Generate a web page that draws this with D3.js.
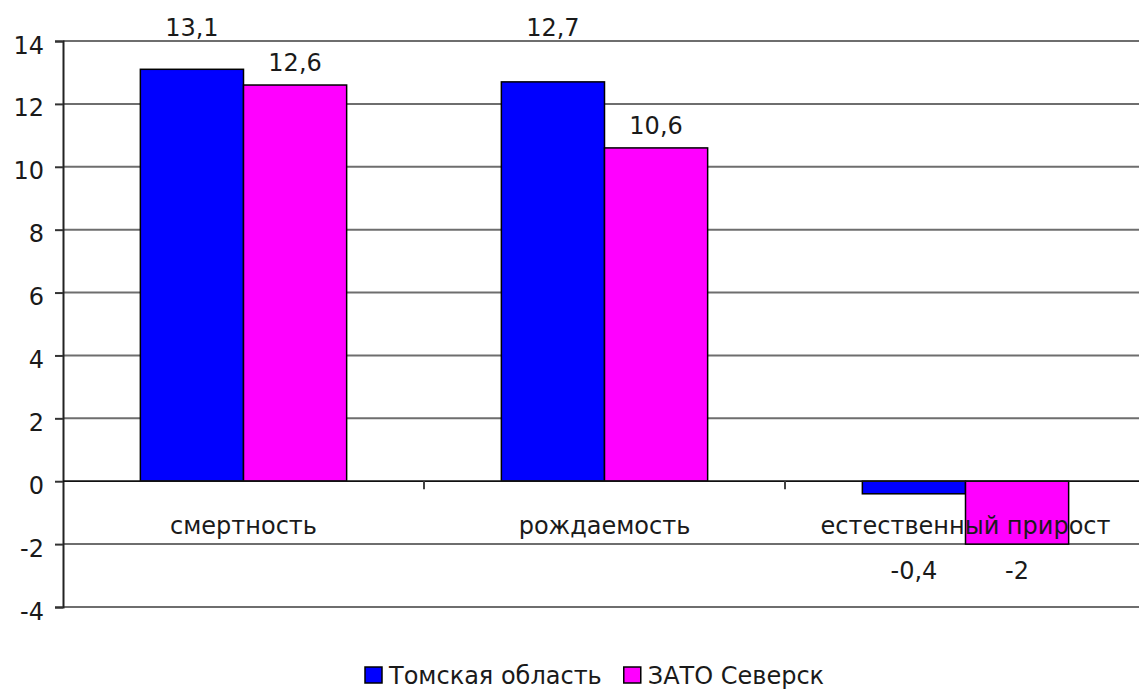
<!DOCTYPE html>
<html>
<head>
<meta charset="utf-8">
<script src="https://cdn.jsdelivr.net/npm/d3@7/dist/d3.min.js"></script>
<style>
  html, body { margin: 0; padding: 0; background: #fff; }
  svg { display: block; }
  text { font-family: "DejaVu Sans", Verdana, sans-serif; fill: #1a1a1a; }
</style>
</head>
<body>
<svg id="chart" width="1139" height="691"></svg>
<script>
// Demographic indicators, per 1000 population
const categories = ["смертность", "рождаемость", "естественный прирост"];
const seriesNames = ["Томская область", "ЗАТО Северск"];
const tomskValues = [13.1, 12.7, -0.4];
const severskValues = [12.6, 10.6, -2];
const yTicks = [-4, -2, 0, 2, 4, 6, 8, 10, 12, 14];
const valueLabels = [["13,1", "12,7", "-0,4"], ["12,6", "10,6", "-2"]];
const colors = ["#0000ff", "#ff00ff"];

const series = [tomskValues, severskValues];

const svg = d3.select("#chart");
const W = 1139, H = 691;
const plot = { left: 63, right: 1146, top: 41, bottom: 607 };
const fontSize = 24;

const x = d3.scaleBand().domain(categories).range([plot.left, plot.right]).padding(0);
const barW = x.bandwidth() / 3.5;
const xs = d3.scaleBand().domain(d3.range(series.length)).range([-barW, barW]).padding(0);
const y = d3.scaleLinear().domain([-4, 14]).range([plot.bottom, plot.top]);

// horizontal gridlines
svg.append("g")
  .selectAll("line")
  .data(yTicks.filter(t => t !== 0))
  .join("line")
  .attr("x1", plot.left).attr("x2", W)
  .attr("y1", d => y(d)).attr("y2", d => y(d))
  .attr("stroke", "#6e6e6e").attr("stroke-width", 2);

// y axis
const yAxis = d3.axisLeft(y).tickValues(yTicks).tickSize(8).tickPadding(11).tickFormat(d => String(d));
const gy = svg.append("g").attr("transform", `translate(${plot.left},0)`).call(yAxis);
gy.select(".domain").attr("stroke", "#222").attr("stroke-width", 2);
gy.selectAll(".tick line").attr("stroke", "#333").attr("stroke-width", 2);
gy.selectAll(".tick text").attr("font-size", fontSize).attr("font-family", "DejaVu Sans").attr("fill", "#1a1a1a").attr("dy", "0.5em");

// bars
categories.forEach((c, ci) => {
  series.forEach((vals, si) => {
    const v = vals[ci];
    const cx = x(c) + x.bandwidth() / 2;
    svg.append("rect")
      .attr("x", cx + xs(si))
      .attr("width", xs.bandwidth())
      .attr("y", y(Math.max(0, v)))
      .attr("height", Math.abs(y(v) - y(0)))
      .attr("fill", colors[si])
      .attr("stroke", "#000").attr("stroke-width", 1.5);
  });
});

// zero line and category ticks
svg.append("line")
  .attr("x1", plot.left).attr("x2", W)
  .attr("y1", y(0)).attr("y2", y(0))
  .attr("stroke", "#111").attr("stroke-width", 1.8);
svg.append("g")
  .selectAll("line")
  .data(categories.slice(1))
  .join("line")
  .attr("x1", d => x(d)).attr("x2", d => x(d))
  .attr("y1", y(0)).attr("y2", y(0) + 8)
  .attr("stroke", "#444").attr("stroke-width", 2);

// category labels below the zero line
const catY = y(0) + 53;
svg.append("g")
  .selectAll("text")
  .data(categories)
  .join("text")
  .attr("x", d => x(d) + x.bandwidth() / 2)
  .attr("y", catY)
  .attr("text-anchor", "middle")
  .attr("font-size", fontSize)
  .text(d => d);

// value labels
categories.forEach((c, ci) => {
  series.forEach((vals, si) => {
    const v = vals[ci];
    const cx = x(c) + x.bandwidth() / 2 + xs(si) + xs.bandwidth() / 2;
    let ly;
    if (v >= 0) {
      ly = y(v) - 23;
      // labels crowding the top gridline are lifted above the plot
      if (ly - plot.top < 20) ly = plot.top - 14;
    } else {
      ly = Math.max(y(v) + 23, catY + 36);
    }
    svg.append("text")
      .attr("x", cx).attr("y", ly).attr("dy", "0.36em")
      .attr("text-anchor", "middle")
      .attr("font-size", fontSize)
      .text(valueLabels[si][ci]);
  });
});

// legend
const legend = svg.append("g").attr("transform", "translate(365,667)");
const legendItems = legend.selectAll("g")
  .data(seriesNames)
  .join("g");
let lx = 0;
legendItems.each(function (d, i) {
  const g = d3.select(this).attr("transform", `translate(${lx},0)`);
  g.append("rect").attr("width", 17).attr("height", 16)
    .attr("fill", colors[i]).attr("stroke", "#000").attr("stroke-width", 1.5);
  const t = g.append("text").attr("x", 24).attr("y", 17)
    .attr("font-size", fontSize).text(d);
  lx += 24 + t.node().getComputedTextLength() + 22;
});
</script>
</body>
</html>
